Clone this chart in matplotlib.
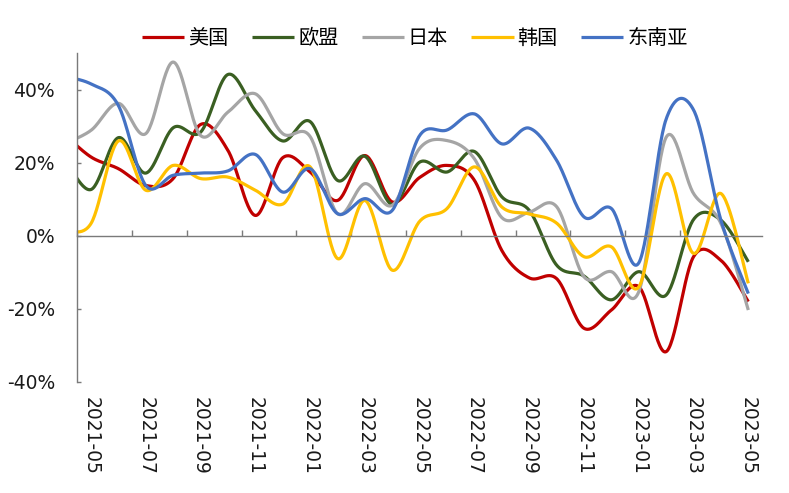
import numpy as np
import matplotlib
matplotlib.use("Agg")
import matplotlib.pyplot as plt

plt.rcParams['font.family'] = ['DejaVu Sans', 'Noto Sans CJK SC']
plt.rcParams['axes.unicode_minus'] = False

# Months (first month is a lead-in point that lies left of the axis start)
months = ['2021-04', '2021-05', '2021-06', '2021-07', '2021-08', '2021-09', '2021-10',
          '2021-11', '2021-12', '2022-01', '2022-02', '2022-03', '2022-04', '2022-05',
          '2022-06', '2022-07', '2022-08', '2022-09', '2022-10', '2022-11', '2022-12',
          '2023-01', '2023-02', '2023-03', '2023-04', '2023-05']

usa = [28, 21.6, 18.4, 13.8, 15.7, 30.5, 23.4, 5.6, 21.4, 17.5, 9.7, 22, 9.3, 16,
       19.3, 15.2, -4, -11.5, -11.7, -25.3, -20.3, -13.9, -31.7, -5.7, -6.7, -18]
eu = [21.7, 12.7, 26.9, 17.2, 29.6, 28.4, 44.2, 34.3, 26, 31.3, 15.2, 21.8, 8.6, 20.2,
      17.5, 23.1, 10.7, 7, -8, -11, -17.5, -9.8, -16.2, 4.5, 4.3, -7.1]
japan = [25.2, 28.9, 36.3, 28, 47.6, 27.5, 33.9, 38.9, 28, 27.2, 6.1, 14.3, 8.4, 24,
         26.1, 21.1, 5, 6.5, 8, -11.2, -9.8, -15.3, 27, 11.6, 3.4, -20.3]
korea = [1.6, 3.4, 26, 12.5, 19.3, 15.7, 16.1, 12.5, 8.7, 18.9, -6.2, 9.7, -9.4, 4,
         7.5, 18.9, 7.9, 6, 3.5, -5.7, -3, -14, 17, -4.8, 11.6, -13]
sea = [43.7, 41.6, 35.7, 13.8, 16.6, 17.2, 17.8, 22.3, 12, 18.4, 6.1, 10.2, 7, 27.5,
       29, 33.4, 25.2, 29.5, 20.7, 5.2, 7.5, -7.4, 32, 34.5, 4.3, -15.8]

series_names = ['美国', '欧盟', '日本', '韩国', '东南亚']
series_vals = [usa, eu, japan, korea, sea]
colors = ['#C00000', '#3A5F22', '#A5A5A5', '#FFC000', '#4472C4']
tick_months = months[1::2]


def catmull_rom(x, y, n=30):
    x = np.asarray(x, float)
    y = np.asarray(y, float)
    px = np.concatenate([[x[0]], x, [x[-1]]])
    py = np.concatenate([[y[0]], y, [y[-1]]])
    xs, ys = [], []
    t = np.linspace(0, 1, n, endpoint=False)
    for i in range(1, len(px) - 2):
        for arr, out in ((px, xs), (py, ys)):
            p0, p1, p2, p3 = arr[i - 1], arr[i], arr[i + 1], arr[i + 2]
            out.append(0.5 * ((2 * p1) + (-p0 + p2) * t
                              + (2 * p0 - 5 * p1 + 4 * p2 - p3) * t ** 2
                              + (-p0 + 3 * p1 - 3 * p2 + p3) * t ** 3))
    xs.append([x[-1]])
    ys.append([y[-1]])
    return np.concatenate(xs), np.concatenate(ys)


fig = plt.figure(figsize=(7.89, 4.93), dpi=100)
ax = fig.add_axes([0.098, 0.2252, 0.8678, 0.6667])

# category centres: month k (0 = 2021-05) at k + 0.5
xpos = np.arange(len(months)) - 0.5
for name, vals, c in zip(series_names, series_vals, colors):
    sx, sy = catmull_rom(xpos, vals)
    ax.plot(sx, sy, color=c, lw=2.3, label=name, solid_capstyle='butt')

ax.set_xlim(0, 25)
ax.set_ylim(-40, 50)

axis_col = '#7a7a7a'
for s in ['top', 'right']:
    ax.spines[s].set_visible(False)
ax.spines['left'].set_color(axis_col)
ax.spines['left'].set_linewidth(1.0)
ax.spines['bottom'].set_position(('data', 0))
ax.spines['bottom'].set_color(axis_col)
ax.spines['bottom'].set_linewidth(1.0)

ax.set_yticks([-40, -20, 0, 20, 40])
ax.set_yticklabels([f"{v}%" for v in [-40, -20, 0, 20, 40]])
ax.tick_params(axis='y', direction='in', length=3, width=1.0, color=axis_col,
               labelsize=13.5, pad=16, labelcolor='#1a1a1a')

ax.set_xticks(np.arange(0, 25, 2))
ax.tick_params(axis='x', direction='in', length=4.5, width=1.0, color=axis_col,
               labelbottom=False)

sec = ax.secondary_xaxis('bottom')
sec.set_xticks(np.arange(0, 25, 2) + 0.5)
sec.set_xticklabels(tick_months, rotation=-90, ha='center', va='top')
sec.tick_params(axis='x', length=0, pad=11, labelsize=13.5, labelcolor='#1a1a1a')
sec.spines['bottom'].set_visible(False)

leg = ax.legend(loc='center', bbox_to_anchor=(0.493, 1.046), ncol=5, frameon=False,
                prop={'family': ['Noto Sans CJK SC', 'DejaVu Sans'], 'size': 14.5},
                handlelength=2.1, handletextpad=0.2, columnspacing=1.15)
for line in leg.get_lines():
    line.set_linewidth(2.3)

fig.savefig('out.png', dpi=100)
